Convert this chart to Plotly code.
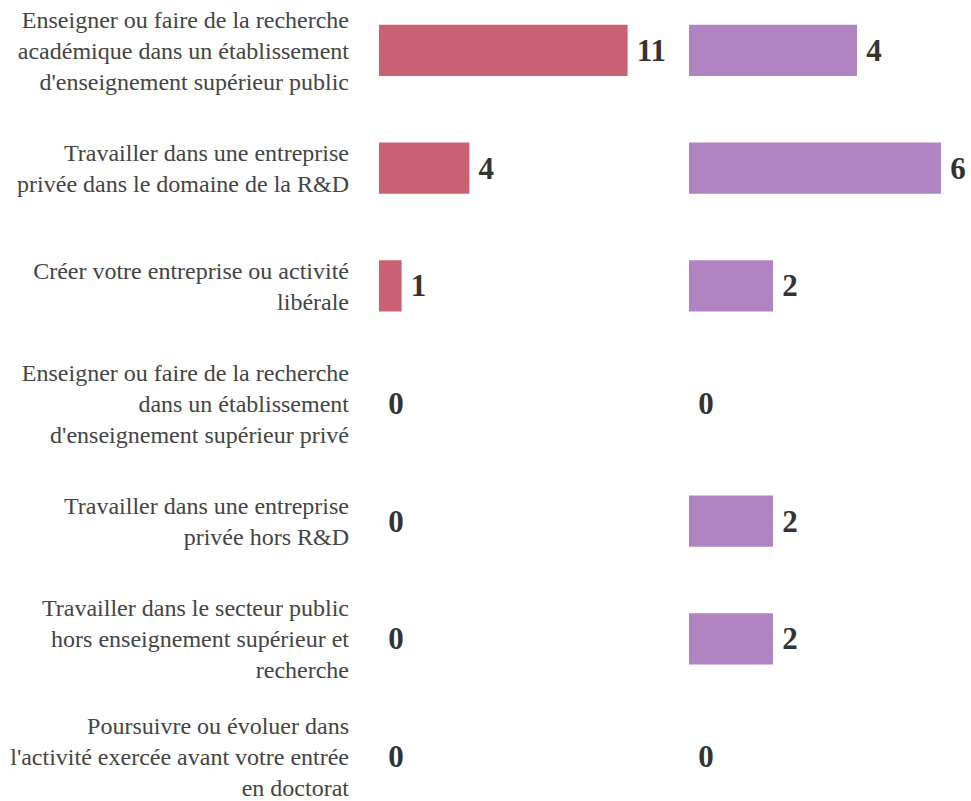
import plotly.graph_objects as go

categories = [
    "Enseigner ou faire de la recherche<br>académique dans un établissement<br>d'enseignement supérieur public",
    "Travailler dans une entreprise<br>privée dans le domaine de la R&D",
    "Créer votre entreprise ou activité<br>libérale",
    "Enseigner ou faire de la recherche<br>dans un établissement<br>d'enseignement supérieur privé",
    "Travailler dans une entreprise<br>privée hors R&D",
    "Travailler dans le secteur public<br>hors enseignement supérieur et<br>recherche",
    "Poursuivre ou évoluer dans<br>l'activité exercée avant votre entrée<br>en doctorat",
]
series_left = [11, 4, 1, 0, 0, 0, 0]
series_right = [4, 6, 2, 0, 2, 2, 0]

positions = list(range(len(categories)))
W, H = 971, 801

left_start = 379 / W
left_end = 0.69
right_start = 689 / W
right_end = 1.0
left_range = (left_end - left_start) * W / 22.6
right_range = (right_end - right_start) * W / 42.0

row_px = 118.0
top_val = -50.5 / row_px
span = H / row_px
yrange = [top_val + span, top_val]

textfont = dict(family="Liberation Serif", size=31, color="#333333", weight="bold")

fig = go.Figure()
fig.add_trace(go.Bar(
    y=positions, x=series_left, orientation="h",
    marker=dict(color="#c96073", line=dict(width=0)),
    width=0.435,
    text=series_left, texttemplate="\u2009%{x}", textposition="outside", textfont=textfont,
    cliponaxis=False, constraintext="none",
    xaxis="x", yaxis="y", showlegend=False, hoverinfo="skip",
))
fig.add_trace(go.Bar(
    y=positions, x=series_right, orientation="h",
    marker=dict(color="#b083c3", line=dict(width=0)),
    width=0.435,
    text=series_right, texttemplate="\u2009%{x}", textposition="outside", textfont=textfont,
    cliponaxis=False, constraintext="none",
    xaxis="x2", yaxis="y2", showlegend=False, hoverinfo="skip",
))

fig.update_layout(
    width=W, height=H,
    margin=dict(l=0, r=0, t=0, b=0),
    paper_bgcolor="white", plot_bgcolor="white",
    font=dict(family="Liberation Serif", size=24, color="#444444"),
    xaxis=dict(domain=[left_start, left_end], range=[0, left_range],
               showgrid=False, zeroline=False, showticklabels=False, showline=False),
    xaxis2=dict(domain=[right_start, right_end], range=[0, right_range],
                showgrid=False, zeroline=False, showticklabels=False, showline=False),
    yaxis=dict(anchor="x", range=yrange, tickmode="array", tickvals=positions,
               ticktext=categories, showgrid=False, zeroline=False, showline=False,
               ticks="", ticklabelstandoff=29, ticklabeloverflow="allow",
               tickfont=dict(family="Liberation Serif", size=24, color="#444444")),
    yaxis2=dict(anchor="x2", range=yrange, matches="y", showticklabels=False,
                showgrid=False, zeroline=False, showline=False, ticks=""),
)

fig.write_html(
    "out.html",
    config={"displayModeBar": False},
    post_script="document.body.style.margin='0px';document.body.style.overflow='hidden';",
)
